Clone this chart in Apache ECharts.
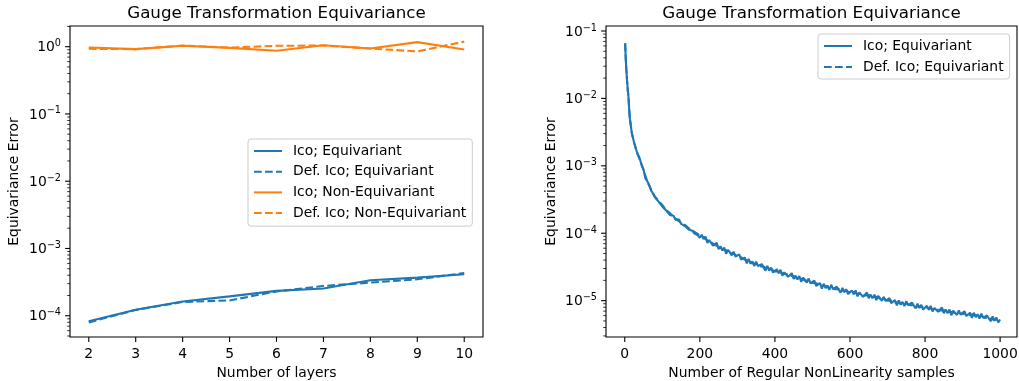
<!DOCTYPE html>
<html>
<head>
<meta charset="utf-8">
<script src="https://cdn.jsdelivr.net/npm/echarts@6/dist/echarts.min.js"></script>
<style>html,body{margin:0;padding:0;background:#fff}#c{width:1019px;height:381px}</style>
</head>
<body>
<div id="c"></div>
<script>
// ---------- Left panel data ----------
const layers = [2, 3, 4, 5, 6, 7, 8, 9, 10];
const icoEq      = [8.3e-5, 1.23e-4, 1.63e-4, 1.94e-4, 2.34e-4, 2.54e-4, 3.37e-4, 3.69e-4, 4.13e-4];
const defIcoEq   = [7.97e-5, 1.22e-4, 1.6e-4, 1.69e-4, 2.3e-4, 2.77e-4, 3.11e-4, 3.48e-4, 4.32e-4];
const icoNonEq   = [0.97, 0.92, 1.03, 0.96, 0.87, 1.05, 0.94, 1.17, 0.91];
const defIcoNonEq= [0.93, 0.92, 1.04, 0.97, 1.03, 1.04, 0.94, 0.85, 1.19];
const leftXTicks = [2, 3, 4, 5, 6, 7, 8, 9, 10];
const leftYTicks = [1e-4, 1e-3, 1e-2, 1e-1, 1];

// ---------- Right panel data ----------
const rightX = [1,2,3,4,5,6,7,8,9,10,11,12,13,14,15,16,17,18,19,20,22,24,26,28,30,32,34,36,38,
40,45,50,55,60,65,70,75,80,85,90,95,100,105,110,115,120,125,130,135,140,145,150,155,160,165,170,175,180,185,190,195,
200,205,210,215,220,225,230,235,240,245,250,255,260,265,270,275,280,285,290,295,
300,305,310,315,320,325,330,335,340,345,350,355,360,365,370,375,380,385,390,395,
400,405,410,415,420,425,430,435,440,445,450,455,460,465,470,475,480,485,490,495,
500,505,510,515,520,525,530,535,540,545,550,555,560,565,570,575,580,585,590,595,
600,605,610,615,620,625,630,635,640,645,650,655,660,665,670,675,680,685,690,695,
700,705,710,715,720,725,730,735,740,745,750,755,760,765,770,775,780,785,790,795,
800,805,810,815,820,825,830,835,840,845,850,855,860,865,870,875,880,885,890,895,
900,905,910,915,920,925,930,935,940,945,950,955,960,965,970,975,980,985,990,995,1000];
const rightIcoEq = [0.066,0.047,0.035,0.028,0.023,0.0188,0.0158,0.0134,0.0117,0.0104,0.0083,0.0066,0.0053,0.0048,0.0045,0.0040,0.0036,0.0033,0.0030,0.0028,0.0026,0.0023,0.0021,0.00195,0.00178,0.00163,0.0015,0.00142,0.00136,
1.27e-3,1.02e-3,8.8e-4,6.5e-4,5.9e-4,5.2e-4,4.3e-4,3.9e-4,3.45e-4,3.3e-4,2.95e-4,2.85e-4,2.5e-4,2.5e-4,2.18e-4,2.21e-4,1.87e-4,1.89e-4,1.82e-4,1.59e-4,1.55e-4,1.59e-4,1.38e-4,1.43e-4,1.28e-4,1.31e-4,1.14e-4,1.17e-4,1.09e-4,9.98e-5,1.05e-4,9.31e-5,
8.56e-5,9.52e-5,8.17e-5,8.94e-5,7.19e-5,7.9e-5,7.88e-5,6.56e-5,6.6e-5,7.2e-5,5.8e-5,6.41e-5,5.55e-5,6.16e-5,4.95e-5,5.67e-5,5.2e-5,4.7e-5,5.34e-5,4.51e-5,
4.37e-5,4.87e-5,4.05e-5,4.22e-5,4.35e-5,3.57e-5,4.16e-5,3.53e-5,3.83e-5,3.27e-5,3.8e-5,3.27e-5,3.07e-5,3.48e-5,3.28e-5,2.79e-5,3.27e-5,2.8e-5,3.1e-5,2.61e-5,
2.56e-5,2.92e-5,2.55e-5,2.87e-5,2.35e-5,2.63e-5,2.68e-5,2.26e-5,2.31e-5,2.56e-5,2.1e-5,2.35e-5,2.06e-5,2.32e-5,1.9e-5,2.19e-5,2.03e-5,1.85e-5,2.13e-5,1.81e-5,
1.78e-5,1.99e-5,1.66e-5,1.75e-5,1.82e-5,1.51e-5,1.78e-5,1.53e-5,1.69e-5,1.45e-5,1.72e-5,1.48e-5,1.4e-5,1.61e-5,1.52e-5,1.31e-5,1.55e-5,1.33e-5,1.48e-5,1.25e-5,
1.24e-5,1.42e-5,1.24e-5,1.42e-5,1.16e-5,1.32e-5,1.35e-5,1.14e-5,1.17e-5,1.32e-5,1.09e-5,1.23e-5,1.08e-5,1.23e-5,1.02e-5,1.18e-5,1.09e-5,9.95e-6,1.14e-5,9.88e-6,
9.69e-6,1.09e-5,9.21e-6,9.75e-6,1.02e-5,8.5e-6,1.01e-5,8.7e-6,9.61e-6,8.33e-6,9.85e-6,8.58e-6,8.14e-6,9.34e-6,8.89e-6,7.69e-6,9.05e-6,7.79e-6,8.67e-6,7.36e-6,
7.27e-6,8.37e-6,7.35e-6,8.35e-6,6.9e-6,7.8e-6,8.01e-6,6.83e-6,7.04e-6,7.9e-6,6.53e-6,7.37e-6,6.49e-6,7.37e-6,6.08e-6,7.1e-6,6.65e-6,6.14e-6,7.14e-6,6.18e-6,
6.13e-6,6.98e-6,5.91e-6,6.3e-6,6.63e-6,5.56e-6,6.61e-6,5.69e-6,6.28e-6,5.43e-6,6.4e-6,5.57e-6,5.26e-6,6.03e-6,5.72e-6,4.94e-6,5.84e-6,5.04e-6,5.61e-6,4.77e-6,5.25e-6];
const rightDefX = [1,2,3,4,5,6,7,8,9,10,12,14,16,18,20,25,30,35,40,50,60,70,80,90,100,110,120,130,140,150,160,170,180,190,
200,210,220,230,240,250,260,270,280,290,300,310,320,330,340,350,360,370,380,390,400,410,420,430,440,450,460,470,480,490,
500,510,520,530,540,550,560,570,580,590,600,610,620,630,640,650,660,670,680,690,700,710,720,730,740,750,760,770,780,790,
800,810,820,830,840,850,860,870,880,890,900,910,920,930,940,950,960,970,980,990,1000];
const rightDefIcoEq = [0.065,0.046,0.036,0.0275,0.0232,0.0185,0.016,0.0132,0.0119,0.0102,0.0067,0.0047,0.0041,0.0032,0.0029,0.0022,0.00175,0.00146,0.00124,8.7e-4,5.85e-4,4.45e-4,3.5e-4,3.02e-4,2.62e-4,2.23e-4,1.99e-4,1.74e-4,1.57e-4,1.43e-4,1.33e-4,1.19e-4,1.1e-4,1.01e-4,
9.2e-5,8.7e-5,7.8e-5,7.4e-5,6.7e-5,6.4e-5,5.8e-5,5.6e-5,5.1e-5,4.95e-5,4.55e-5,4.4e-5,4.05e-5,3.9e-5,3.6e-5,3.5e-5,3.25e-5,3.2e-5,2.95e-5,2.93e-5,2.72e-5,2.7e-5,2.53e-5,2.5e-5,2.33e-5,2.3e-5,2.15e-5,2.12e-5,1.98e-5,1.97e-5,
1.83e-5,1.81e-5,1.69e-5,1.67e-5,1.58e-5,1.57e-5,1.48e-5,1.49e-5,1.4e-5,1.4e-5,1.32e-5,1.33e-5,1.26e-5,1.26e-5,1.19e-5,1.2e-5,1.13e-5,1.14e-5,1.07e-5,1.06e-5,1.0e-5,1.0e-5,9.4e-6,9.4e-6,8.95e-6,9.0e-6,8.55e-6,8.6e-6,8.15e-6,8.2e-6,
7.75e-6,7.8e-6,7.45e-6,7.5e-6,7.15e-6,7.2e-6,6.8e-6,6.8e-6,6.55e-6,6.6e-6,6.35e-6,6.4e-6,6.1e-6,6.2e-6,5.85e-6,5.9e-6,5.55e-6,5.6e-6,5.25e-6,5.3e-6,5.1e-6];
const rightXTicks = [0, 200, 400, 600, 800, 1000];
const rightYTicks = [1e-5, 1e-4, 1e-3, 1e-2, 1e-1];

// ---------- styling ----------
const FONT = 'DejaVu Sans';
const BLUE = '#1f77b4', ORANGE = '#ff7f0e';
const LW = 2.1;
const DASH = [7.7, 3.3];
const MAJ_LEN = 4.9, MIN_LEN = 2.8;

function minorTicks(lo, hi) {
  const out = [];
  for (let e = Math.floor(Math.log10(lo)); e <= Math.ceil(Math.log10(hi)); e++) {
    for (let m = 2; m <= 9; m++) {
      const v = m * Math.pow(10, e);
      if (v >= lo && v <= hi) out.push(v);
    }
  }
  return out;
}
const SUP = {'-':'\u2212','0':'0','1':'1','2':'2','3':'3','4':'4','5':'5','6':'6','7':'7','8':'8','9':'9'};
function powLabel(v) {
  const e = Math.round(Math.log10(v));
  const s = String(e).split('').map(c => SUP[c]).join('');
  return '{b|10}{s|' + s + '}';
}
const richY = {
  b: {fontFamily: FONT, fontSize: 13.9, color: '#000', lineHeight: 16, verticalAlign: 'bottom'},
  s: {fontFamily: FONT, fontSize: 9.7, color: '#000', lineHeight: 9, verticalAlign: 'top'}
};

const L_XMIN = 1.6, L_XMAX = 10.4, L_MIN = 4.83e-5, L_MAX = 2.03;
const R_XMIN = -50, R_XMAX = 1045, R_MIN = 2.89e-6, R_MAX = 0.1186;

const gridBase = {containLabel: false, outerBoundsMode: 'none', show: true, borderColor: '#000', borderWidth: 1.1, backgroundColor: 'transparent'};
const grids = [
  Object.assign({}, gridBase, {left: 70, top: 26, width: 413, height: 311}),
  Object.assign({}, gridBase, {left: 606, top: 26, width: 411, height: 311})
];

function xAxisCfg(gi, min, max, ticks, name) {
  return {
    type: 'value', gridIndex: gi, min: min, max: max, position: 'bottom',
    axisLine: {show: false, onZero: false}, splitLine: {show: false}, axisTick: {show: false},
    axisLabel: {customValues: ticks, margin: 10, interval: 0, fontFamily: FONT, fontSize: 13.9, color: '#000',
                formatter: v => String(v)},
    name: name, nameLocation: 'middle', nameGap: 28,
    nameTextStyle: {fontFamily: FONT, fontSize: 13.9, color: '#000'}
  };
}
function yAxisCfg(gi, min, max, ticks, gap) {
  return {
    type: 'log', logBase: 10, gridIndex: gi, min: min, max: max, position: 'left',
    axisLine: {show: false, onZero: false}, splitLine: {show: false}, axisTick: {show: false},
    axisLabel: {customValues: ticks, interval: 0, margin: 9, formatter: powLabel, rich: richY},
    name: 'Equivariance Error', nameLocation: 'middle', nameGap: gap, nameRotate: 90,
    nameTextStyle: {fontFamily: FONT, fontSize: 13.9, color: '#000'}
  };
}

function zip(xs, ys) { return xs.map((x, i) => [x, ys[i]]); }
function line(name, xs, ys, color, dashed, xi, yi, z) {
  return {
    type: 'line', name: name, xAxisIndex: xi, yAxisIndex: yi,
    data: zip(xs, ys), symbol: 'none', showSymbol: false, z: z,
    lineStyle: {color: color, width: LW, type: dashed ? DASH : 'solid'},
    itemStyle: {color: color}, animation: false
  };
}

// Tick marks drawn through the axes' own scales (custom series, not clipped)
function yTickSeries(name, gi, xMin, values, len, width) {
  return {
    type: 'custom', name: name, xAxisIndex: gi, yAxisIndex: gi, silent: true, clip: false, z: 10,
    data: values.map(v => [xMin, v]),
    renderItem: (params, api) => {
      const p = api.coord([api.value(0), api.value(1)]);
      return {type: 'line', shape: {x1: p[0] - len, y1: p[1], x2: p[0], y2: p[1]},
              style: {stroke: '#000', lineWidth: width}};
    }
  };
}
function xTickSeries(name, gi, yMin, values, len, width) {
  return {
    type: 'custom', name: name, xAxisIndex: gi, yAxisIndex: gi, silent: true, clip: false, z: 10,
    data: values.map(v => [v, yMin]),
    renderItem: (params, api) => {
      const p = api.coord([api.value(0), api.value(1)]);
      return {type: 'line', shape: {x1: p[0], y1: p[1], x2: p[0], y2: p[1] + len},
              style: {stroke: '#000', lineWidth: width}};
    }
  };
}

const legendText = {fontFamily: FONT, fontSize: 13.9, color: '#000', padding: [0, 0, 0, 6]};
const legendCommon = {orient: 'vertical', itemWidth: 28, itemHeight: 14,
  backgroundColor: 'rgba(255,255,255,0.8)', borderColor: '#cccccc', borderWidth: 1, borderRadius: 3,
  itemStyle: {opacity: 0, borderWidth: 0}, textStyle: legendText, selectedMode: false};

const option = {
  animation: false,
  backgroundColor: '#fff',
  title: [
    {text: 'Gauge Transformation Equivariance', left: 276.5, top: 5, padding: 0, textAlign: 'center',
     textStyle: {fontFamily: FONT, fontSize: 16.7, fontWeight: 'normal', color: '#000'}},
    {text: 'Gauge Transformation Equivariance', left: 811.5, top: 5, padding: 0, textAlign: 'center',
     textStyle: {fontFamily: FONT, fontSize: 16.7, fontWeight: 'normal', color: '#000'}}
  ],
  grid: grids,
  xAxis: [
    xAxisCfg(0, L_XMIN, L_XMAX, leftXTicks, 'Number of layers'),
    xAxisCfg(1, R_XMIN, R_XMAX, rightXTicks, 'Number of Regular NonLinearity samples')
  ],
  yAxis: [
    yAxisCfg(0, L_MIN, L_MAX, leftYTicks, 49),
    yAxisCfg(1, R_MIN, R_MAX, rightYTicks, 48)
  ],
  legend: [
    Object.assign({}, legendCommon, {left: 248, top: 139, itemGap: 6.7, padding: [5, 6, 6, 5],
      data: ['Ico; Equivariant', 'Def. Ico; Equivariant', 'Ico; Non-Equivariant', 'Def. Ico; Non-Equivariant']}),
    Object.assign({}, legendCommon, {left: 818, top: 34, itemGap: 7, padding: [5, 6, 5, 5],
      data: ['Ico; Equivariant', 'Def. Ico; Equivariant']})
  ],
  series: [
    line('Ico; Equivariant', layers, icoEq, BLUE, false, 0, 0, 2),
    line('Def. Ico; Equivariant', layers, defIcoEq, BLUE, true, 0, 0, 3),
    line('Ico; Non-Equivariant', layers, icoNonEq, ORANGE, false, 0, 0, 4),
    line('Def. Ico; Non-Equivariant', layers, defIcoNonEq, ORANGE, true, 0, 0, 5),
    line('Ico; Equivariant', rightX, rightIcoEq, BLUE, false, 1, 1, 2),
    line('Def. Ico; Equivariant', rightDefX, rightDefIcoEq, BLUE, true, 1, 1, 3),
    yTickSeries('yMajL', 0, L_XMIN, leftYTicks, MAJ_LEN, 1.1),
    yTickSeries('yMinL', 0, L_XMIN, minorTicks(L_MIN, L_MAX), MIN_LEN, 0.8),
    yTickSeries('yMajR', 1, R_XMIN, rightYTicks, MAJ_LEN, 1.1),
    yTickSeries('yMinR', 1, R_XMIN, minorTicks(R_MIN, R_MAX), MIN_LEN, 0.8),
    xTickSeries('xMajL', 0, L_MIN, leftXTicks, MAJ_LEN, 1.1),
    xTickSeries('xMajR', 1, R_MIN, rightXTicks, MAJ_LEN, 1.1)
  ]
};

const chart = echarts.init(document.getElementById('c'), null, {renderer: 'canvas'});
chart.setOption(option);
</script>
</body>
</html>
